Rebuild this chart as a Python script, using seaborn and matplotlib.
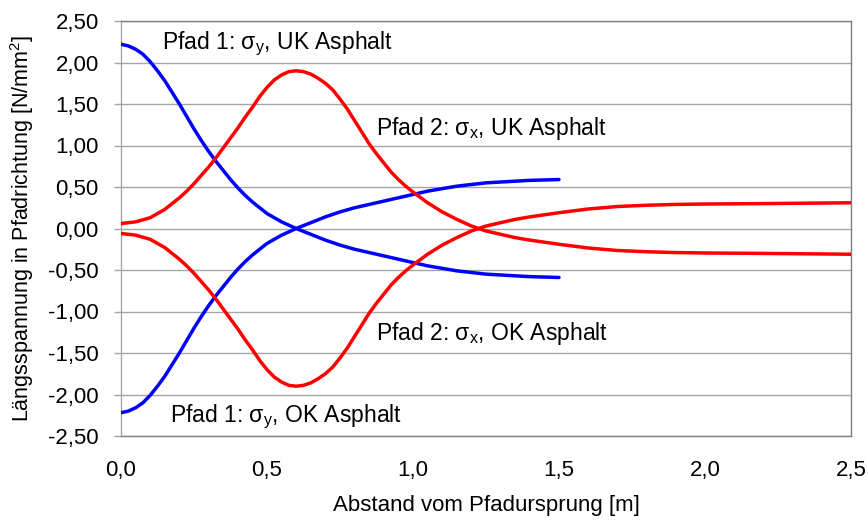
import matplotlib
matplotlib.use("Agg")
import matplotlib.pyplot as plt
import seaborn as sns
import pandas as pd
from matplotlib.ticker import FuncFormatter

# Path 1 (sigma_y), positions along the path in m
x_pfad1 = [0.0, 0.025, 0.05, 0.075, 0.1, 0.125, 0.15, 0.175, 0.2, 0.225, 0.25, 0.275,
           0.3, 0.325, 0.35, 0.375, 0.4, 0.425, 0.45, 0.475, 0.5, 0.525, 0.55, 0.575,
           0.6, 0.65, 0.7, 0.75, 0.8, 0.85, 0.9, 0.95, 1.0, 1.05, 1.1, 1.15, 1.2,
           1.25, 1.3, 1.35, 1.4, 1.45, 1.5]
sy_uk = [2.22, 2.20, 2.16, 2.10, 2.01, 1.90, 1.78, 1.64, 1.50, 1.35, 1.20, 1.06,
         0.93, 0.81, 0.70, 0.59, 0.49, 0.40, 0.32, 0.25, 0.18, 0.13, 0.08, 0.04,
         0.00, -0.07, -0.14, -0.20, -0.25, -0.29, -0.33, -0.37, -0.41, -0.45, -0.48, -0.51, -0.53,
         -0.55, -0.56, -0.57, -0.58, -0.585, -0.59]
sy_ok = [-2.22, -2.20, -2.16, -2.10, -2.01, -1.90, -1.78, -1.64, -1.50, -1.35, -1.20, -1.06,
         -0.93, -0.81, -0.70, -0.59, -0.49, -0.40, -0.32, -0.25, -0.18, -0.13, -0.08, -0.04,
         0.00, 0.07, 0.14, 0.20, 0.25, 0.29, 0.33, 0.37, 0.41, 0.45, 0.48, 0.51, 0.53,
         0.55, 0.56, 0.57, 0.58, 0.585, 0.59]

# Path 2 (sigma_x)
x_pfad2 = [0.0, 0.05, 0.1, 0.15, 0.2, 0.225, 0.25, 0.275, 0.3, 0.325, 0.35, 0.375,
           0.4, 0.425, 0.45, 0.475, 0.5, 0.525, 0.55, 0.575, 0.6, 0.625, 0.65, 0.675,
           0.7, 0.725, 0.75, 0.775, 0.8, 0.825, 0.85, 0.875, 0.9, 0.925, 0.95, 0.975,
           1.0, 1.05, 1.1, 1.15, 1.2, 1.25, 1.3, 1.35, 1.4, 1.5, 1.6, 1.7, 1.8, 1.9,
           2.0, 2.2, 2.5]
sx_uk = [0.06, 0.08, 0.13, 0.23, 0.37, 0.45, 0.54, 0.64, 0.74, 0.85, 0.97, 1.09,
         1.21, 1.34, 1.46, 1.59, 1.70, 1.79, 1.85, 1.89, 1.90, 1.89, 1.86, 1.81,
         1.75, 1.67, 1.56, 1.44, 1.30, 1.16, 1.02, 0.90, 0.79, 0.68, 0.59, 0.51,
         0.44, 0.31, 0.20, 0.11, 0.03, -0.03, -0.07, -0.11, -0.14, -0.19, -0.235, -0.265, -0.28, -0.29,
         -0.295, -0.30, -0.31]
sx_ok = [-0.06, -0.08, -0.13, -0.23, -0.37, -0.45, -0.54, -0.64, -0.74, -0.85, -0.97, -1.09,
         -1.21, -1.34, -1.46, -1.59, -1.70, -1.79, -1.85, -1.89, -1.90, -1.89, -1.86, -1.81,
         -1.75, -1.67, -1.56, -1.44, -1.30, -1.16, -1.02, -0.90, -0.79, -0.68, -0.59, -0.51,
         -0.44, -0.31, -0.20, -0.11, -0.03, 0.03, 0.07, 0.11, 0.14, 0.19, 0.235, 0.265, 0.28, 0.29,
         0.295, 0.30, 0.31]

y_ticks = [-2.5, -2.0, -1.5, -1.0, -0.5, 0.0, 0.5, 1.0, 1.5, 2.0, 2.5]
x_ticks = [0.0, 0.5, 1.0, 1.5, 2.0, 2.5]

sns.set_style("white")
plt.rcParams["font.family"] = ["Liberation Sans", "DejaVu Sans"]
plt.rcParams["text.color"] = "black"
plt.rcParams["axes.labelcolor"] = "black"
plt.rcParams["mathtext.fontset"] = "custom"
plt.rcParams["mathtext.rm"] = "Liberation Sans"
plt.rcParams["mathtext.it"] = "Liberation Sans"
plt.rcParams["mathtext.default"] = "regular"

fig = plt.figure(figsize=(8.68, 5.2), dpi=100)
ax = fig.add_axes([121 / 868, 1 - 436 / 520, 730 / 868, 415 / 520])

curves = [
    (x_pfad1, sy_uk, "#0000ff"),
    (x_pfad1, sy_ok, "#0000ff"),
    (x_pfad2, sx_uk, "#ff0000"),
    (x_pfad2, sx_ok, "#ff0000"),
]
for xs, ys, col in curves:
    df = pd.DataFrame({"x": xs, "y": ys})
    sns.lineplot(data=df, x="x", y="y", ax=ax, color=col, linewidth=2.5,
                 estimator=None, sort=False, zorder=3)

ax.set_xlim(0, 2.5)
ax.set_ylim(-2.5, 2.5)
ax.set_yticks(y_ticks)
ax.set_xticks(x_ticks)
ax.yaxis.set_major_formatter(FuncFormatter(lambda v, p: f"{v:.2f}".replace(".", ",")))
ax.xaxis.set_major_formatter(FuncFormatter(lambda v, p: f"{v:.1f}".replace(".", ",")))

ax.grid(axis="y", color="#a6a6a6", linewidth=1.0)
ax.grid(axis="x", visible=False)
for side in ["top", "right", "bottom"]:
    ax.spines[side].set_color("#7f7f7f")
    ax.spines[side].set_linewidth(1.0)
ax.spines["left"].set_color("#a6a6a6")
ax.spines["left"].set_linewidth(1.0)

fs = 16
ax.tick_params(axis="y", length=5, width=1, color="#a6a6a6", pad=11,
               labelsize=fs, labelcolor="black", left=True)
ax.tick_params(axis="x", length=0, pad=17, labelsize=fs, labelcolor="black")

ax.set_xlabel("Abstand vom Pfadursprung [m]", fontsize=fs, labelpad=10)
ax.set_ylabel("Längsspannung in Pfadrichtung [N/mm$^{2}$]", fontsize=15.5, labelpad=9)

fa = 16.5
ax.text(0.14, 2.22, r"Pfad 1: $\sigma_{y}$, UK Asphalt", fontsize=fa, va="center", ha="left")
ax.text(0.875, 1.21, r"Pfad 2: $\sigma_{x}$, UK Asphalt", fontsize=fa, va="center", ha="left")
ax.text(0.875, -1.26, r"Pfad 2: $\sigma_{x}$, OK Asphalt", fontsize=fa, va="center", ha="left")
ax.text(0.168, -2.27, r"Pfad 1: $\sigma_{y}$, OK Asphalt", fontsize=fa, va="center", ha="left")

fig.savefig("out.png", dpi=100)
